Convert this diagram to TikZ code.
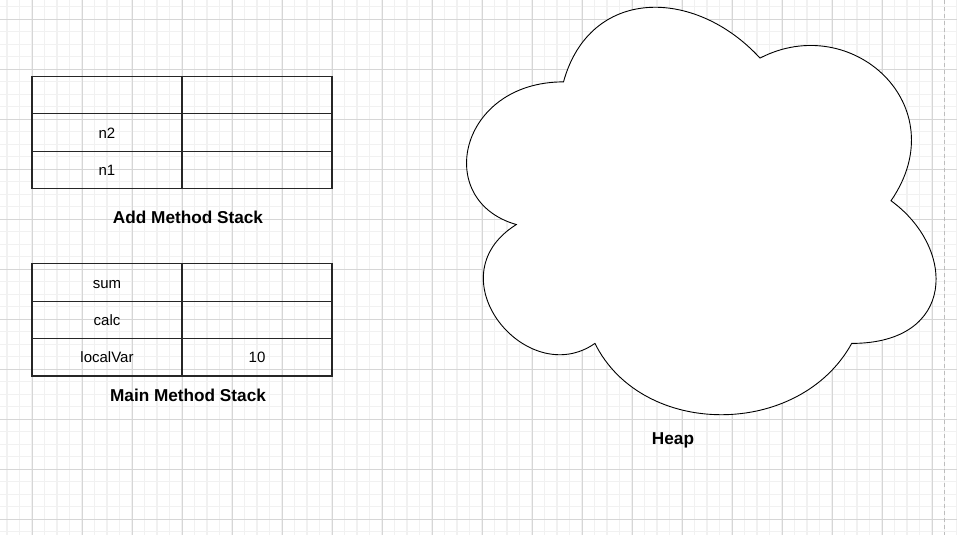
\documentclass[tikz,border=0pt]{standalone}
\usepackage{fontspec}
\setmainfont{Liberation Sans}
\definecolor{gridmajor}{HTML}{D6D6D6}
\definecolor{gridminor}{HTML}{F1F1F1}
\definecolor{pageline}{HTML}{BDBDBD}
\begin{document}
\begin{tikzpicture}[x=1pt,y=-1pt,
  cellbox/.style={draw=black!85,line width=1.3pt,minimum width=150pt,minimum height=37.5pt,inner sep=0pt,text height=11pt,text depth=0pt,font=\fontsize{15}{18}\selectfont},
  titletext/.style={font=\fontsize{17.2}{20}\selectfont\bfseries,anchor=base,inner sep=0pt},
  minorline/.style={draw=gridminor,line width=1.2pt},
  majorline/.style={draw=gridmajor,line width=1pt}]
\useasboundingbox (0,0) rectangle (957,535);
\fill[white] (0,0) rectangle (957,535);
% grid
\begin{scope}
\clip (0,0) rectangle (957,535);
\foreach \i in {-2,...,77} {\draw[minorline] ({32+12.5*\i},0) -- ({32+12.5*\i},535);}
\foreach \i in {-1,...,42} {\draw[minorline] (0,{19.3+12.5*\i}) -- (957,{19.3+12.5*\i});}
\foreach \i in {0,...,18} {\draw[majorline] ({32+50*\i},0) -- ({32+50*\i},535);}
\foreach \i in {0,...,10} {\draw[majorline] (0,{19.3+50*\i}) -- (957,{19.3+50*\i});}
\end{scope}
\draw[pageline,line width=1pt,dash pattern=on 4pt off 3pt] (944.3,0) -- (944.3,535);
% Add method stack
\node[cellbox] (a1l) at (107,95) {};
\node[cellbox] (a1r) at (257,95) {};
\node[cellbox] (a2l) at (107,132.5) {n2};
\node[cellbox] (a2r) at (257,132.5) {};
\node[cellbox] (a3l) at (107,170) {n1};
\node[cellbox] (a3r) at (257,170) {};
\node[titletext] (addtitle) at (188,223) {Add Method Stack};
% Main method stack
\node[cellbox] (m1l) at (107,282.5) {sum};
\node[cellbox] (m1r) at (257,282.5) {};
\node[cellbox] (m2l) at (107,320) {calc};
\node[cellbox] (m2r) at (257,320) {};
\node[cellbox] (m3l) at (107,357.3) {localVar};
\node[cellbox] (m3r) at (257,357.3) {10};
\node[titletext] (maintitle) at (188,401.3) {Main Method Stack};
% Heap cloud
\begin{scope}[shift={(432.5,-37)},x=524pt,y=-475.5pt]
\draw[black,line width=0.9pt,fill=white] (0.25,0.25)
  .. controls (0.05,0.25) and (0,0.5) .. (0.16,0.55)
  .. controls (0,0.66) and (0.18,0.9) .. (0.31,0.8)
  .. controls (0.4,1) and (0.7,1) .. (0.8,0.8)
  .. controls (1,0.8) and (1,0.6) .. (0.875,0.5)
  .. controls (1,0.3) and (0.8,0.1) .. (0.625,0.2)
  .. controls (0.5,0.05) and (0.3,0.05) .. (0.25,0.25) -- cycle;
\end{scope}
\node[titletext] (heaptitle) at (673,444.3) {Heap};
\end{tikzpicture}
\end{document}
